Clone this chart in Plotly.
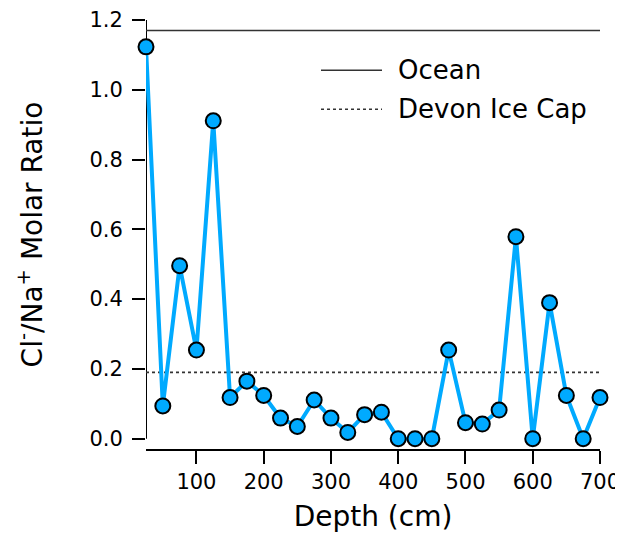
import plotly.graph_objects as go

depth_cm = [25, 50, 75, 100, 125, 150, 175, 200, 225, 250, 275, 300, 325, 350,
            375, 400, 425, 450, 475, 500, 525, 550, 575, 600, 625, 650, 675, 700]
cl_na_ratio = [1.123, 0.094, 0.496, 0.254, 0.911, 0.118, 0.165, 0.124, 0.059, 0.035,
               0.111, 0.059, 0.018, 0.069, 0.076, 0.0, 0.0, 0.0, 0.254, 0.046,
               0.042, 0.082, 0.579, 0.0, 0.390, 0.124, 0.0, 0.118]
ocean_ratio = 1.17
devon_ratio = 0.19
x_ticks = [100, 200, 300, 400, 500, 600, 700]
y_ticks = [0.0, 0.2, 0.4, 0.6, 0.8, 1.0, 1.2]
y_tick_labels = ["0.0", "0.2", "0.4", "0.6", "0.8", "1.0", "1.2"]

FONT = "DejaVu Sans"
BLUE = "#00AAFF"
x_min, x_max = 25, 700
y_min, y_max = -0.0295, 1.2

fig = go.Figure()
fig.add_trace(go.Scatter(x=[x_min, x_max], y=[ocean_ratio, ocean_ratio], mode="lines",
                         line=dict(color="#333333", width=1.6), name="Ocean", showlegend=False))
fig.add_trace(go.Scatter(x=[x_min, x_max], y=[devon_ratio, devon_ratio], mode="lines",
                         line=dict(color="#333333", width=1.6, dash="dot"), name="Devon Ice Cap",
                         showlegend=False))
fig.add_trace(go.Scatter(x=depth_cm, y=cl_na_ratio, mode="lines+markers",
                         line=dict(color=BLUE, width=4),
                         marker=dict(size=15, color=BLUE, line=dict(color="black", width=2)),
                         cliponaxis=False, showlegend=False))

# y-axis line (only from 0 to 1.2, detached from x axis)
fig.add_shape(type="line", xref="x", yref="y", x0=x_min, x1=x_min, y0=0, y1=1.2,
              line=dict(color="black", width=2), layer="below")

# manual legend
legend_items = [("Ocean", "solid", 0.883), ("Devon Ice Cap", "dot", 0.792)]
for label, dash, yp in legend_items:
    fig.add_shape(type="line", xref="paper", yref="paper", x0=(321 - 146) / 454, x1=(382 - 146) / 454,
                  y0=yp, y1=yp, line=dict(color="#333333", width=1.6, dash=dash))
    fig.add_annotation(x=(396 - 146) / 454, y=yp, xref="paper", yref="paper", text=label,
                       showarrow=False, xanchor="left", yanchor="middle",
                       font=dict(family=FONT, size=26, color="black"))

fig.update_xaxes(range=[x_min, x_max], tickvals=x_ticks, ticks="outside", ticklen=13, tickwidth=2,
                 tickcolor="black", showline=True, linecolor="black", linewidth=2, showgrid=False,
                 zeroline=False, tickfont=dict(family=FONT, size=21, color="black"), automargin=False,
                 title=dict(text="Depth (cm)", font=dict(family=FONT, size=28, color="black"), standoff=13))
fig.update_yaxes(range=[y_min, y_max], tickvals=y_ticks, ticktext=y_tick_labels, ticks="outside",
                 ticklen=13, tickwidth=2, tickcolor="black", showline=False, showgrid=False,
                 zeroline=False, tickfont=dict(family=FONT, size=21, color="black"), automargin=False,
                 ticklabelstandoff=5,
                 title=dict(text="Cl<sup>-</sup>/Na<sup>+</sup> Molar Ratio",
                            font=dict(family=FONT, size=28, color="black"), standoff=38))
# page body has an 8px default margin: size the figure so it fills the 623x533 window
fig.update_layout(width=615, height=525, margin=dict(l=138, r=23, t=12, b=84, autoexpand=False),
                  plot_bgcolor="white", paper_bgcolor="white", showlegend=False)
fig.write_html("out.html")
